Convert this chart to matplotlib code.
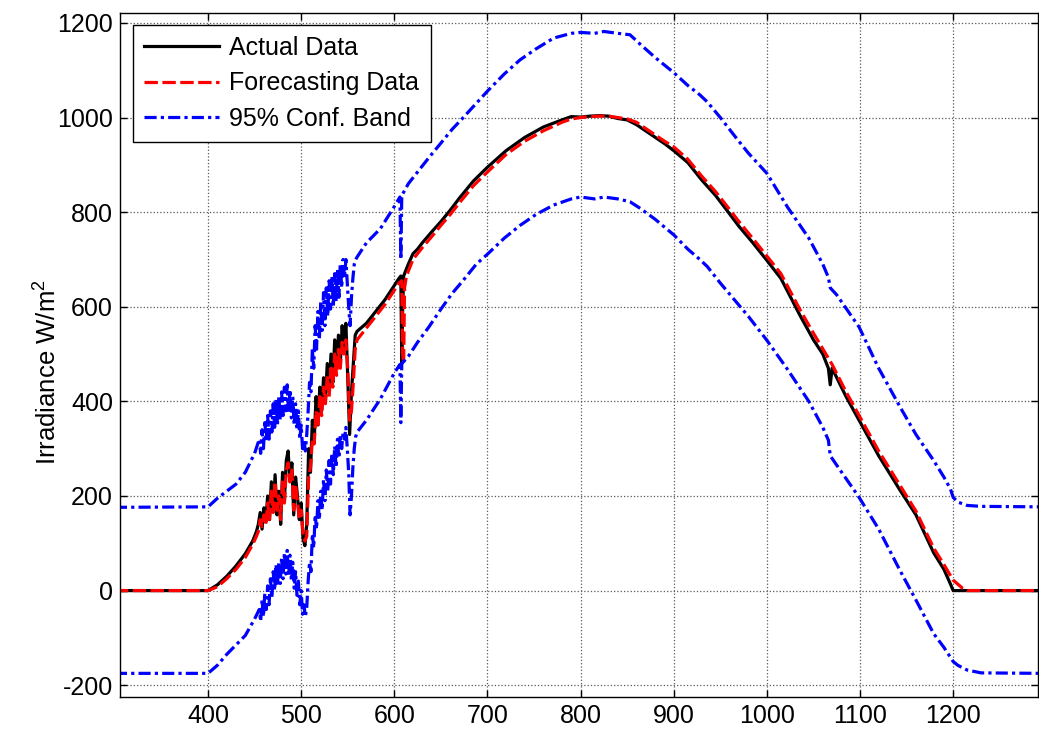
import matplotlib
matplotlib.use('Agg')
import matplotlib.pyplot as plt

# values
t_actual = [300, 400, 410, 420, 430, 440, 448,
            452, 454, 456, 458, 460, 462, 464, 466, 468, 470, 472, 474, 476, 478,
            480, 482, 484, 486, 488, 490, 492, 494, 496, 498, 500, 502, 504, 506,
            508, 510, 512, 514, 516, 518, 520, 522, 524, 526, 528, 530, 532, 534,
            536, 538, 540, 542, 544, 546, 548, 550, 552, 554, 556, 558, 560,
            570, 580, 590, 600, 605, 607, 608, 609, 610, 615, 620, 625, 630, 640,
            650, 660, 670, 685, 700, 720, 740, 760, 780, 790, 800, 810, 820, 830,
            840, 850, 860, 875, 890, 900, 915, 930, 945, 957, 970, 985, 1000, 1015,
            1036, 1050, 1060, 1066, 1068, 1070, 1085, 1099, 1120, 1143, 1160, 1179,
            1190, 1197, 1200, 1295]
actual = [0, 0, 12, 30, 52, 78, 105,
          125, 140, 165, 130, 175, 145, 200, 150, 230, 170, 245, 160, 210, 140,
          250, 190, 275, 295, 230, 270, 160, 240, 200, 150, 185, 110, 95, 140,
          300, 250, 360, 320, 410, 350, 430, 380, 450, 400, 480, 420, 500, 440,
          530, 470, 540, 480, 560, 510, 565, 450, 330, 420, 480, 540, 548,
          565, 590, 615, 645, 660, 665, 480, 600, 665, 690, 712, 722, 735, 758,
          780, 804, 830, 866, 895, 930, 958, 980, 995, 1002, 1001, 1003, 1004, 1003,
          998, 995, 985, 965, 945, 930, 905, 868, 835, 804, 770, 735, 698, 660,
          580, 530, 500, 470, 435, 470, 410, 360, 285, 212, 160, 80,
          45, 14, 0, 0]

t_fore = [300, 400, 410, 420, 430, 440, 448,
          452, 454, 456, 458, 460, 462, 464, 466, 468, 470, 472, 474, 476, 478,
          480, 482, 484, 486, 488, 490, 492, 494, 496, 498, 500, 502, 504, 506,
          508, 510, 512, 514, 516, 518, 520, 522, 524, 526, 528, 530, 532, 534,
          536, 538, 540, 542, 544, 546, 548, 550, 552, 554, 556, 558, 560,
          570, 580, 590, 600, 605, 608, 609, 610, 611, 613, 620, 630, 640, 650,
          660, 670, 685, 700, 720, 740, 760, 780, 790, 800, 810, 820, 830, 840,
          850, 860, 875, 890, 900, 915, 930, 945, 957, 970, 985, 1000, 1015, 1036,
          1050, 1070, 1085, 1099, 1120, 1143, 1160, 1179, 1190, 1200, 1210, 1215,
          1295]
fore = [0, 0, 8, 25, 45, 70, 98,
        115, 125, 150, 135, 160, 140, 185, 150, 215, 165, 230, 170, 200, 150,
        235, 185, 255, 270, 230, 255, 170, 225, 190, 150, 170, 120, 105, 115,
        240, 260, 320, 310, 380, 345, 410, 370, 430, 395, 455, 410, 470, 430,
        500, 455, 510, 470, 525, 500, 530, 470, 360, 380, 440, 510, 530,
        555, 580, 605, 635, 650, 655, 500, 480, 640, 665, 700, 725, 748, 772,
        795, 820, 856, 885, 922, 950, 972, 990, 997, 1000, 1002, 1003, 1003, 1000,
        997, 990, 970, 950, 938, 912, 876, 843, 813, 780, 744, 707, 670, 592,
        544, 478, 420, 370, 295, 222, 168, 90, 55, 22, 5, 0,
        0]

t_band = [300, 400, 410, 420, 430, 440, 450,
          455, 456.5, 458, 459.5, 461, 462.5, 464, 465.5, 467, 468.5,
          470, 471.5, 473, 474.5, 476, 477.5, 479, 480.5, 482, 483.5,
          485, 486.5, 488, 489.5, 491, 492.5, 494, 495.5, 497, 498.5,
          500, 501.5, 503, 504.5, 506, 507.5, 509, 510.5, 512, 513.5,
          515, 516.5, 518, 519.5, 521, 522.5, 524, 525.5, 527, 528.5,
          530, 531.5, 533, 534.5, 536, 537.5, 539, 540.5, 542, 543.5,
          545, 546.5, 548, 549.5, 551, 552.5, 554, 555.5, 557, 558.5,
          560, 570, 585, 600, 606, 607, 608,
          615, 625, 637, 650, 662, 674, 688, 701, 718, 735, 752, 771, 790, 800,
          815, 825, 840, 853, 864, 880, 900, 915, 928, 936, 950, 965, 980, 1000,
          1022, 1045, 1060, 1066, 1068, 1075, 1099, 1120, 1143, 1160, 1179, 1190,
          1197, 1200, 1205, 1215, 1230, 1295]
upper = [176, 177, 195, 210, 225, 250, 290,
         320, 290, 340, 300, 355, 315, 370, 320, 380, 335,
         395, 345, 405, 350, 410, 360, 420, 370, 430, 380,
         435, 375, 425, 365, 410, 350, 395, 340, 380, 320,
         350, 300, 320, 295, 330, 380, 440, 420, 510, 470,
         560, 510, 590, 530, 610, 550, 630, 560, 640, 580,
         655, 595, 665, 600, 670, 610, 680, 620, 690, 640,
         700, 660, 700, 650, 600, 560, 620, 660, 690, 700,
         705, 735, 765, 812, 832, 700, 835,
         860, 885, 915, 946, 975, 1000, 1030, 1058, 1092, 1122, 1145, 1168, 1178, 1180,
         1178, 1182, 1178, 1175, 1155, 1127, 1095, 1068, 1048, 1033, 1000, 962, 925, 882,
         811, 745, 690, 662, 640, 625, 557, 470, 388, 330, 275, 240,
         215, 197, 187, 180, 178, 177]
lower = [-175, -175, -158, -135, -115, -95, -60,
         -40, -65, -20, -55, -5, -40, 10, -30, 25, -15,
         40, 0, 55, 10, 60, 15, 70, 25, 80, 35,
         85, 30, 75, 20, 60, 5, 40, -10, 20, -30,
         0, -50, -30, -55, -35, 20, 60, 40, 120, 90,
         160, 130, 190, 150, 210, 170, 235, 190, 255, 210,
         275, 225, 290, 245, 305, 260, 320, 280, 330, 300,
         335, 320, 345, 300, 250, 160, 200, 260, 300, 325,
         335, 360, 405, 460, 478, 355, 480,
         495, 525, 557, 595, 628, 656, 690, 713, 745, 772, 795, 815, 828, 832,
         828, 832, 828, 822, 808, 785, 752, 722, 700, 685, 650, 615, 580, 529,
         468, 400, 345, 318, 285, 265, 197, 130, 42, -20, -91, -120,
         -141, -150, -158, -168, -174, -175]

plt.rcParams['font.family'] = ['Liberation Sans', 'DejaVu Sans']
plt.rcParams['mathtext.default'] = 'regular'
plt.rcParams['axes.unicode_minus'] = False

fig = plt.figure(figsize=(10.39, 7.31), dpi=100)
ax = fig.add_axes([0.1155, 0.0465, 0.8835, 0.9357])

band_style = (0, (3.8, 1.3, 1, 1.3))
la, = ax.plot(t_actual, actual, color='black', lw=2.3, label='Actual Data')
lf, = ax.plot(t_fore, fore, color='red', lw=2.3, ls=(0, (4.2, 1.4)),
              label='Forecasting Data')
lu, = ax.plot(t_band, upper, color='blue', lw=2.3, ls=band_style,
              label='95% Conf. Band')
ax.plot(t_band, lower, color='blue', lw=2.3, ls=band_style)

ax.set_xlim(305.5, 1291)
ax.set_ylim(-225, 1221)
ax.set_xticks(range(400, 1201, 100))
ax.set_yticks(range(-200, 1201, 200))
ax.tick_params(direction='in', top=True, right=True, length=5, width=1,
               labelsize=18, pad=5)
ax.grid(True, ls=':', color='0.35', lw=0.9)
for s in ax.spines.values():
    s.set_linewidth(1.0)

ax.set_ylabel('Irradiance W/m$^2$', fontsize=18.5)
ax.yaxis.set_label_coords(-0.064, 0.475)

leg = ax.legend(handles=[la, lf, lu], loc='upper left',
                bbox_to_anchor=(0.0142, 0.9825), borderaxespad=0,
                fontsize=18, handlelength=3.0, handletextpad=0.4,
                labelspacing=0.45, borderpad=0.45, fancybox=False,
                framealpha=1, edgecolor='black')
leg.get_frame().set_linewidth(1.0)

fig.savefig('out.png', dpi=100)
